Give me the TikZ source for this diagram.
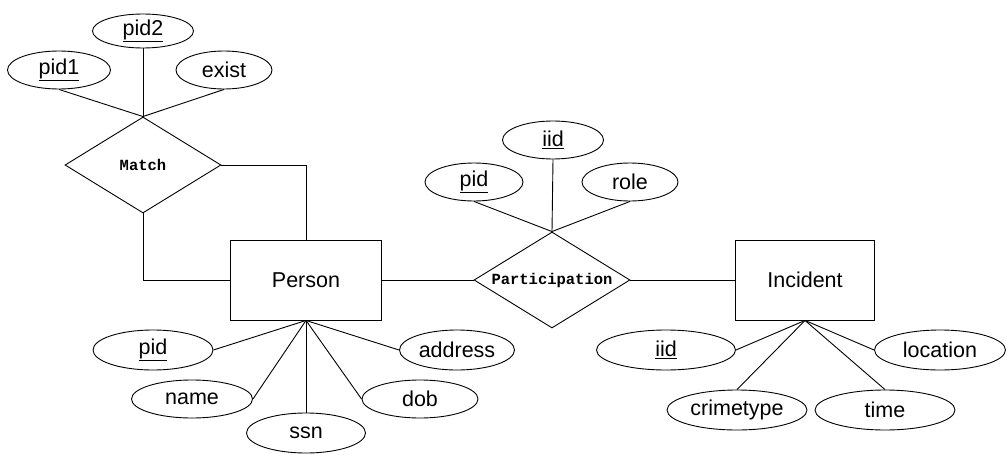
\documentclass[tikz,border=0pt]{standalone}
\usepackage{fontspec}
\setmainfont{Liberation Sans}
\newfontfamily\relfont{Liberation Mono}
\usetikzlibrary{shapes.geometric}
\tikzset{
  ent/.style={draw,rectangle,minimum height=80,inner sep=0,font=\fontsize{21.5}{25}\selectfont},
  attr/.style={draw,ellipse,minimum height=38,inner sep=0,font=\fontsize{21.5}{25}\selectfont},
  rel/.style={draw,diamond,aspect=1.625,minimum width=156,minimum height=96,inner sep=0,font=\relfont\bfseries\fontsize{15.5}{18}\selectfont},
}
\begin{document}
\begin{tikzpicture}[x=1pt,y=-1pt,line width=0.9pt]
  \useasboundingbox (0,0) rectangle (1007,455);
  % entities
  \node[ent,minimum width=151] (person) at (306,280) {Person};
  \node[ent,minimum width=139] (incident) at (805,280) {Incident};
  % relationships
  \node[rel] (match) at (143,165) {Match};
  \node[rel] (part) at (552,280) {Participation};
  % attributes of Match
  \node[attr,minimum width=101,minimum height=34] (pidtwo) at (143,31) {\underline{pid2}};
  \node[attr,minimum width=103] (pidone) at (59,70) {\underline{pid1}};
  \node[attr,minimum width=96] (exist) at (224,70) {exist};
  % attributes of Participation
  \node[attr,minimum width=101] (partiid) at (553,140) {\underline{iid}};
  \node[attr,minimum width=98] (partpid) at (474,182) {\underline{pid}};
  \node[attr,minimum width=96] (role) at (630,182) {role};
  % attributes of Person
  \node[attr,minimum width=120,minimum height=40] (pid) at (153,350) {\underline{pid}};
  \node[attr,minimum width=121] (name) at (192,399) {name};
  \node[attr,minimum width=119,minimum height=40] (ssn) at (306,433) {ssn};
  \node[attr,minimum width=116] (dob) at (420,399) {dob};
  \node[attr,minimum width=115,minimum height=40] (address) at (457,350) {address};
  % attributes of Incident
  \node[attr,minimum width=139,minimum height=40] (iid) at (666,350) {\underline{iid}};
  \node[attr,minimum width=131,minimum height=40] (location) at (940,350) {location};
  \node[attr,minimum width=140,minimum height=40] (crimetype) at (737,410) {crimetype};
  \node[attr,minimum width=140,minimum height=40] (time) at (885,410) {time};
  % links
  \draw (match.east) -| (person.north);
  \draw (match.south) |- (person.west);
  \draw (person.east) -- (part.west);
  \draw (part.east) -- (incident.west);
  \draw (match.north) -- (pidtwo.south);
  \draw (match.north) -- (pidone.south);
  \draw (match.north) -- (exist.south);
  \draw (part.north) -- (partiid.south);
  \draw (part.north) -- (partpid.south);
  \draw (part.north) -- (role.south);
  \draw (person.south) -- (pid.east);
  \draw (person.south) -- (name.east);
  \draw (person.south) -- (ssn.north);
  \draw (person.south) -- (dob.west);
  \draw (person.south) -- (address.west);
  \draw (incident.south) -- (iid.east);
  \draw (incident.south) -- (crimetype.north);
  \draw (incident.south) -- (time.north);
  \draw (incident.south) -- (location.west);
\end{tikzpicture}
\end{document}
